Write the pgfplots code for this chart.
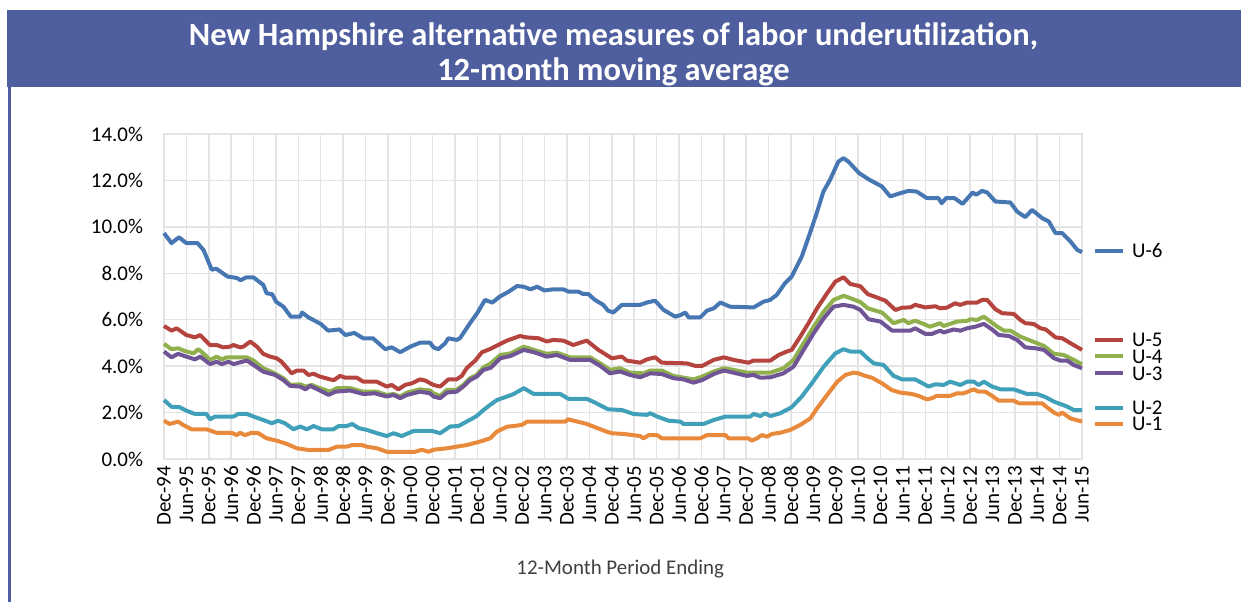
\documentclass[border=0pt]{standalone}
\usepackage{pgfplots}
\pgfplotsset{compat=1.18}
\usepackage{fontspec}
\setmainfont{Carlito}
\definecolor{banner}{HTML}{4F5E9E}
\definecolor{gridgray}{HTML}{E4E4E4}
\definecolor{labgray}{HTML}{404040}
\definecolor{usix}{HTML}{4677B3}
\definecolor{ufive}{HTML}{B5443F}
\definecolor{ufour}{HTML}{8FB04D}
\definecolor{uthree}{HTML}{705596}
\definecolor{utwo}{HTML}{40A0BA}
\definecolor{uone}{HTML}{E9893C}
\begin{document}
\begin{tikzpicture}
\useasboundingbox (0bp,0bp) rectangle (620.5bp,301bp);
\fill[banner] (3.5bp,257.5bp) rectangle (620.5bp,296bp);
\fill[banner] (3.75bp,0bp) rectangle (5.25bp,257.5bp);
\node[white,font=\bfseries\fontsize{16.3}{17.5}\selectfont,align=center] at (306.75bp,274bp) {New Hampshire alternative measures of labor underutilization,\\12-month moving average};
\begin{axis}[
  at={(82bp,71.5bp)}, anchor=south west,
  scale only axis, width=459bp, height=162.5bp,
  xmin=0, xmax=246, ymin=0, ymax=14,
  xtick={0,6,...,246},
  xticklabels={Dec-94,Jun-95,Dec-95,Jun-96,Dec-96,Jun-97,Dec-97,Jun-98,Dec-98,Jun-99,Dec-99,Jun-00,Dec-00,Jun-01,Dec-01,Jun-02,Dec-02,Jun-03,Dec-03,Jun-04,Dec-04,Jun-05,Dec-05,Jun-06,Dec-06,Jun-07,Dec-07,Jun-08,Dec-08,Jun-09,Dec-09,Jun-10,Dec-10,Jun-11,Dec-11,Jun-12,Dec-12,Jun-13,Dec-13,Jun-14,Dec-14,Jun-15},
  ytick={0,2,...,14},
  yticklabels={0.0\%,2.0\%,4.0\%,6.0\%,8.0\%,10.0\%,12.0\%,14.0\%},
  grid=major,
  major grid style={draw=gridgray,line width=0.75bp},
  axis line style={draw=gridgray,line width=0.75bp},
  tick style={draw=none},
  tick label style={font=\fontsize{10.5}{12}\selectfont,text=black},
  xticklabel style={rotate=90,anchor=east},
  yticklabel style={xshift=-7bp},
  xlabel={12-Month Period Ending},
  xlabel style={at={(axis description cs:0.497,-0.34)},anchor=center,font=\fontsize{10.5}{12}\selectfont,text=labgray},
  clip=false,
  every axis plot/.append style={line width=2bp,line join=round,mark=none},
]
\addplot[usix] coordinates {(0,9.73)(2,9.30)(4,9.55)(6,9.3)(9,9.3)(10.6,9.0)(12.8,8.15)(14,8.2)(17,7.86)(19.5,7.8)(20.5,7.7)(22,7.82)(24,7.82)(26.6,7.5)(27.5,7.14)(29,7.1)(30,6.78)(32,6.56)(34,6.13)(36.5,6.13)(37,6.31)(38.7,6.1)(42,5.82)(44,5.53)(47,5.58)(48.6,5.34)(51,5.43)(53.4,5.2)(56,5.2)(59.3,4.73)(61,4.81)(63.3,4.6)(66,4.84)(68.6,5.01)(71.3,5.01)(72.2,4.81)(73.5,4.73)(75.3,4.98)(76.2,5.2)(78.4,5.13)(79.3,5.2)(82,5.85)(84,6.3)(86,6.85)(88,6.74)(90,7.0)(92.4,7.21)(94.6,7.45)(96.4,7.42)(98.2,7.31)(100,7.42)(102,7.26)(104.3,7.31)(107,7.31)(108.4,7.21)(111,7.21)(112.3,7.11)(113.7,7.11)(115.5,6.85)(117.7,6.64)(119,6.39)(120.4,6.31)(122.7,6.64)(127.6,6.64)(129.4,6.74)(131.6,6.82)(133.9,6.42)(137,6.13)(138.4,6.2)(139.7,6.31)(140.6,6.1)(143.7,6.1)(145.5,6.39)(147.3,6.49)(149.1,6.74)(151.7,6.56)(158,6.53)(160.7,6.78)(162.4,6.85)(164.2,7.07)(166.4,7.57)(168.2,7.86)(170.9,8.72)(173.1,9.73)(174.9,10.59)(176.7,11.52)(178.5,12.03)(180.7,12.81)(182.1,12.96)(183.4,12.81)(186.3,12.31)(189,12.03)(192.4,11.74)(194.6,11.31)(197.3,11.45)(199.5,11.55)(201.7,11.52)(204.4,11.24)(207.5,11.24)(208.4,11.02)(209.6,11.24)(211.8,11.24)(214,10.99)(216.7,11.48)(217.6,11.38)(219.2,11.55)(220.6,11.48)(222.8,11.09)(226.8,11.05)(228.6,10.66)(230.8,10.42)(232.6,10.73)(235.3,10.38)(237.1,10.23)(238.9,9.73)(240.7,9.73)(242.9,9.37)(244.7,9.01)(246,8.91)};
\addplot[ufive] coordinates {(0,5.73)(2,5.53)(3.4,5.63)(6,5.34)(8.3,5.24)(9.7,5.34)(12.3,4.91)(14.1,4.91)(15.9,4.81)(17.7,4.84)(18.6,4.91)(20.4,4.81)(21.3,4.84)(23.1,5.06)(24.9,4.84)(26.6,4.53)(28.4,4.41)(30.2,4.34)(31.5,4.19)(34.2,3.69)(35.6,3.81)(37.4,3.81)(38.7,3.62)(40.1,3.67)(41.8,3.55)(44.5,3.43)(45.5,3.4)(47.2,3.58)(48.6,3.5)(51.7,3.5)(53.4,3.33)(57,3.33)(59.7,3.12)(61,3.19)(62.8,3.0)(64.6,3.19)(66.4,3.26)(68.6,3.43)(70,3.38)(72.2,3.19)(74,3.12)(76.2,3.43)(78.4,3.43)(79.8,3.58)(81.1,3.91)(83.4,4.24)(85.2,4.6)(87.4,4.74)(90,4.95)(91.9,5.1)(95.4,5.3)(97,5.24)(100.4,5.2)(102.6,5.06)(104.3,5.13)(107,5.1)(109.7,4.91)(111.5,5.01)(113.3,5.1)(116.4,4.7)(120,4.34)(122.7,4.41)(124,4.24)(127.6,4.15)(129.4,4.29)(131.6,4.38)(133.4,4.15)(140.1,4.12)(142.4,4.01)(144.2,4.01)(147.3,4.27)(150,4.38)(152.6,4.27)(156.6,4.15)(158,4.24)(162.5,4.24)(164.7,4.48)(166.9,4.63)(168.2,4.7)(170.5,5.27)(172.7,5.85)(175,6.49)(177.7,7.14)(179.9,7.64)(182.1,7.83)(183.9,7.54)(186.6,7.44)(188.6,7.1)(191.5,6.93)(193.3,6.82)(196,6.42)(197.8,6.52)(200,6.53)(201.3,6.64)(204,6.53)(206.7,6.58)(208,6.49)(209.8,6.52)(212,6.71)(213.4,6.64)(215.2,6.74)(217.9,6.74)(219.2,6.85)(220.6,6.85)(222.8,6.45)(224.6,6.28)(227.7,6.25)(229.5,5.99)(230.8,5.85)(233,5.82)(234.9,5.63)(236.3,5.58)(238.9,5.24)(240.7,5.2)(242.9,4.99)(246,4.7)};
\addplot[ufour] coordinates {(0,4.96)(2,4.73)(3.8,4.77)(5.6,4.65)(7.9,4.55)(9.2,4.73)(11,4.48)(12.3,4.27)(14.1,4.41)(15.5,4.29)(16.8,4.38)(22.2,4.38)(24,4.24)(26.6,3.91)(29.3,3.72)(32,3.48)(33.8,3.19)(36.5,3.22)(37.9,3.12)(39.6,3.19)(41.8,3.05)(44.5,2.9)(46.3,3.05)(49.9,3.05)(53.4,2.9)(57,2.9)(59.7,2.76)(61.5,2.8)(63.3,2.69)(65.1,2.86)(68.6,3.0)(71.3,2.95)(72.2,2.83)(74,2.72)(75.8,2.98)(78.4,2.98)(80.2,3.19)(82,3.48)(83.8,3.62)(85.6,3.95)(87.4,4.1)(90.1,4.48)(92.9,4.55)(96.4,4.84)(99.1,4.7)(102.6,4.53)(105.3,4.58)(108.8,4.38)(114.2,4.38)(116.9,4.12)(119.5,3.84)(122.2,3.91)(124.9,3.72)(128.5,3.69)(130.3,3.81)(133.4,3.81)(136.5,3.58)(141.9,3.43)(144.2,3.55)(147.3,3.77)(150,3.91)(152.6,3.84)(156.2,3.72)(162.5,3.72)(166,3.91)(168.7,4.27)(171.4,4.99)(174.1,5.7)(176.8,6.35)(179.4,6.85)(182.1,7.03)(183.9,6.93)(186.6,6.76)(188.6,6.49)(192.4,6.31)(195.5,5.85)(198.2,5.99)(199.5,5.85)(201.3,5.96)(205.3,5.7)(208,5.85)(208.9,5.73)(212.5,5.92)(215.2,5.95)(216.1,6.02)(217.9,5.99)(219.7,6.13)(221.5,5.92)(223.3,5.7)(225.1,5.53)(226.8,5.53)(229.5,5.27)(232.2,5.1)(235.8,4.87)(238.5,4.53)(241.1,4.48)(243.8,4.27)(246,4.08)};
\addplot[uthree] coordinates {(0,4.63)(2,4.38)(3.8,4.53)(6,4.41)(8.3,4.29)(9.7,4.41)(12.3,4.09)(14.1,4.19)(15.5,4.09)(17.3,4.19)(18.6,4.09)(22.2,4.24)(24,4.05)(26.6,3.76)(29.8,3.62)(32,3.4)(33.8,3.15)(36.5,3.12)(37.9,3.0)(39.2,3.15)(41.8,2.95)(44.1,2.76)(45.9,2.9)(49.9,2.95)(53.4,2.8)(56.5,2.83)(59.7,2.69)(61.5,2.76)(63.3,2.62)(65.1,2.76)(68.6,2.9)(71.3,2.83)(72.2,2.69)(74,2.62)(75.8,2.86)(78.4,2.9)(80.2,3.12)(82,3.4)(83.8,3.55)(85.6,3.84)(87.6,3.93)(90.1,4.34)(92.9,4.44)(96.4,4.7)(99.1,4.6)(102.6,4.41)(105.3,4.48)(108.8,4.27)(114.2,4.27)(116.9,4.01)(119.5,3.69)(122.2,3.77)(124.9,3.62)(127.6,3.52)(130.3,3.69)(133.4,3.66)(136.5,3.48)(139.2,3.43)(141.9,3.29)(144.2,3.4)(147.3,3.66)(150,3.81)(152.6,3.72)(156.2,3.58)(158,3.62)(159.8,3.5)(162.5,3.52)(166,3.69)(168.7,3.98)(171.4,4.7)(174.1,5.42)(176.8,6.06)(179.4,6.56)(182.1,6.64)(184.8,6.56)(186.6,6.42)(188.8,6.02)(192,5.92)(195.1,5.53)(200,5.53)(201.3,5.63)(204,5.39)(205.8,5.39)(208,5.53)(208.9,5.45)(211.6,5.58)(213.4,5.53)(215.2,5.63)(217.4,5.7)(219.7,5.82)(221.9,5.58)(223.7,5.34)(226.4,5.3)(228.6,5.13)(230.8,4.81)(233.5,4.77)(235.8,4.7)(238.5,4.34)(240.2,4.24)(242,4.24)(243.8,4.05)(246,3.91)};
\addplot[utwo] coordinates {(0,2.54)(2,2.25)(4.2,2.23)(6,2.08)(8.3,1.94)(11.4,1.94)(12.3,1.71)(13.7,1.83)(18.6,1.83)(19.9,1.94)(22.2,1.94)(24,1.83)(26.6,1.68)(28.9,1.54)(30.6,1.65)(32.4,1.54)(34.7,1.28)(36.5,1.4)(38.3,1.28)(40.1,1.42)(42.3,1.28)(45.4,1.28)(46.8,1.42)(49,1.42)(50.4,1.51)(52.2,1.33)(54.4,1.25)(57.1,1.11)(59.7,0.99)(61.5,1.11)(63.7,0.99)(66.9,1.21)(71.8,1.21)(74,1.11)(76.7,1.4)(78.9,1.42)(81.1,1.61)(83.8,1.85)(85.6,2.11)(87.4,2.33)(89.2,2.54)(91.9,2.69)(93.7,2.8)(96.4,3.05)(99.1,2.8)(106.2,2.8)(108.4,2.59)(113.3,2.59)(115.5,2.43)(119,2.14)(122.7,2.11)(125.8,1.94)(129.4,1.9)(130.3,1.97)(132.1,1.83)(135.2,1.65)(138.4,1.61)(139.2,1.51)(144.6,1.51)(147.3,1.68)(150.5,1.83)(157.1,1.83)(158,1.94)(159.8,1.85)(161.1,1.97)(162.5,1.85)(165.1,1.97)(168.2,2.23)(170.9,2.69)(173.6,3.26)(176.8,3.98)(179.9,4.55)(182.1,4.73)(183.9,4.63)(186.6,4.63)(188.8,4.3)(190.2,4.12)(192.8,4.05)(195.5,3.58)(197.8,3.43)(201.3,3.43)(204.9,3.12)(206.7,3.22)(208.9,3.19)(210.7,3.33)(213.4,3.19)(215.2,3.33)(217,3.33)(218.3,3.19)(219.7,3.33)(221.9,3.12)(224.2,3.0)(227.7,3.0)(231.3,2.8)(234,2.8)(236.3,2.66)(238.5,2.47)(241.7,2.28)(243.8,2.11)(246,2.11)};
\addplot[uone] coordinates {(0,1.65)(1.5,1.51)(3.8,1.61)(5.1,1.47)(7.4,1.28)(11.4,1.28)(14.1,1.13)(18.1,1.13)(19.5,1.03)(20.4,1.13)(21.7,1.03)(23.5,1.13)(25.3,1.11)(27.5,0.89)(30.2,0.79)(32.9,0.65)(35.6,0.46)(38.7,0.39)(44.1,0.39)(46.3,0.53)(49,0.53)(50.4,0.6)(53,0.6)(54.4,0.53)(57.1,0.46)(59.7,0.31)(67.3,0.31)(69.1,0.4)(70.9,0.31)(72.2,0.4)(75.8,0.46)(78.4,0.53)(81.1,0.6)(84.7,0.75)(87.4,0.89)(89.2,1.18)(91.9,1.39)(93.7,1.42)(95.9,1.47)(97.3,1.61)(107.6,1.61)(108.2,1.71)(110.8,1.61)(113.3,1.51)(115.5,1.37)(118.6,1.18)(120,1.11)(123.1,1.08)(127.6,0.99)(128.5,0.89)(129.9,1.03)(132.1,1.03)(133.4,0.89)(143.7,0.89)(145.5,1.03)(150.5,1.03)(151.3,0.89)(156.6,0.89)(157.5,0.79)(158.9,0.89)(160.2,1.03)(161.6,0.96)(162.9,1.08)(165.1,1.13)(167.8,1.25)(170.5,1.47)(173.2,1.75)(175,2.18)(177.7,2.76)(180.4,3.33)(182.6,3.62)(184.8,3.72)(186.1,3.69)(187.9,3.58)(189.7,3.5)(192.4,3.26)(195,2.97)(197.3,2.86)(200.4,2.8)(202.2,2.72)(204.4,2.57)(205.8,2.62)(207.1,2.72)(210.7,2.72)(212.5,2.83)(214.3,2.83)(217,3.0)(218.3,2.9)(220.1,2.9)(221.9,2.72)(223.7,2.51)(227.7,2.51)(229.1,2.4)(235.3,2.4)(236.6,2.23)(238.5,2.0)(239.8,1.9)(240.7,2.0)(242.9,1.75)(246,1.61)};
\begin{scope}[line width=2bp,every node/.style={right,text=black,inner ysep=0pt,font=\fontsize{10.5}{12}\selectfont}]
\draw[usix] (axis cs:249.6,8.97) -- (axis cs:257.1,8.97) node {U-6};
\draw[ufive] (axis cs:249.6,5.13) -- (axis cs:257.1,5.13) node {U-5};
\draw[ufour] (axis cs:249.6,4.42) -- (axis cs:257.1,4.42) node {U-4};
\draw[uthree] (axis cs:249.6,3.69) -- (axis cs:257.1,3.69) node {U-3};
\draw[utwo] (axis cs:249.6,2.2) -- (axis cs:257.1,2.2) node {U-2};
\draw[uone] (axis cs:249.6,1.5) -- (axis cs:257.1,1.5) node {U-1};
\end{scope}
\end{axis}
\end{tikzpicture}
\end{document}
